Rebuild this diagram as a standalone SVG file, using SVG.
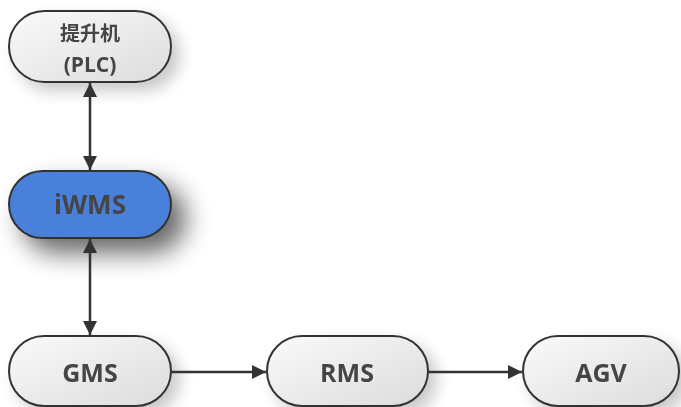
<svg xmlns="http://www.w3.org/2000/svg" width="681" height="407" viewBox="0 0 681 407">
<defs>
<linearGradient id="g" x1="0" y1="0" x2="1" y2="1">
<stop offset="0" stop-color="#fafafa"/>
<stop offset="1" stop-color="#dcdcdc"/>
</linearGradient>
<filter id="sh" x="-30%" y="-40%" width="170%" height="200%">
<feGaussianBlur in="SourceAlpha" stdDeviation="8"/>
<feOffset dx="8" dy="8" result="b"/>
<feComponentTransfer><feFuncA type="linear" slope="0.22"/></feComponentTransfer>
<feMerge><feMergeNode/><feMergeNode in="SourceGraphic"/></feMerge>
</filter>
<filter id="sh2" x="-40%" y="-80%" width="200%" height="300%">
<feGaussianBlur in="SourceAlpha" stdDeviation="13"/>
<feOffset dx="14" dy="14" result="b"/>
<feComponentTransfer><feFuncA type="linear" slope="0.6"/></feComponentTransfer>
<feMerge><feMergeNode/><feMergeNode in="SourceGraphic"/></feMerge>
</filter>
<marker id="ah" viewBox="0 0 10 10" refX="10" refY="5" markerWidth="14" markerHeight="14" markerUnits="userSpaceOnUse" orient="auto-start-reverse">
<path d="M0,0 L10,5 L0,10 z" fill="#333"/>
</marker>
</defs>
<style>
.n{fill:url(#g);stroke:#333;stroke-width:2}
.b{fill:#4a80d9;stroke:#333;stroke-width:2}
.t{font-family:"Open Sans","Noto Sans CJK SC",sans-serif;font-weight:bold;fill:#444;text-anchor:middle;dominant-baseline:central}
.c{stroke:#333;stroke-width:2.5;fill:none}
</style>
<rect width="681" height="407" fill="#ffffff"/>
<g id="plc" filter="url(#sh)">
<rect class="n" x="9" y="11" width="162" height="71" rx="35.5"/>
<text class="t" x="90" y="33" font-size="20">提升机</text>
<text class="t" x="90" y="64" font-size="21">(PLC)</text>
</g>
<g id="iwms" filter="url(#sh2)">
<rect class="b" x="9" y="171" width="162" height="67" rx="33.5"/>
<text class="t" x="90" y="204" font-size="26" fill="#3c3c3c">iWMS</text>
</g>
<g id="gms" filter="url(#sh)">
<rect class="n" x="9" y="336" width="162" height="70" rx="35"/>
<text class="t" x="90" y="372" font-size="25">GMS</text>
</g>
<g id="rms" filter="url(#sh)">
<rect class="n" x="267" y="336" width="161" height="70" rx="35"/>
<text class="t" x="347" y="372" font-size="25">RMS</text>
</g>
<g id="agv" filter="url(#sh)">
<rect class="n" x="523" y="336" width="156" height="70" rx="35"/>
<text class="t" x="601" y="372" font-size="25">AGV</text>
</g>
<g id="connectors">
<line class="c" x1="90" y1="83" x2="90" y2="170" marker-start="url(#ah)" marker-end="url(#ah)"/>
<line class="c" x1="90" y1="239" x2="90" y2="335" marker-start="url(#ah)" marker-end="url(#ah)"/>
<line class="c" x1="171" y1="372" x2="266" y2="372" marker-end="url(#ah)"/>
<line class="c" x1="428" y1="372" x2="522" y2="372" marker-end="url(#ah)"/>
</g>
</svg>
